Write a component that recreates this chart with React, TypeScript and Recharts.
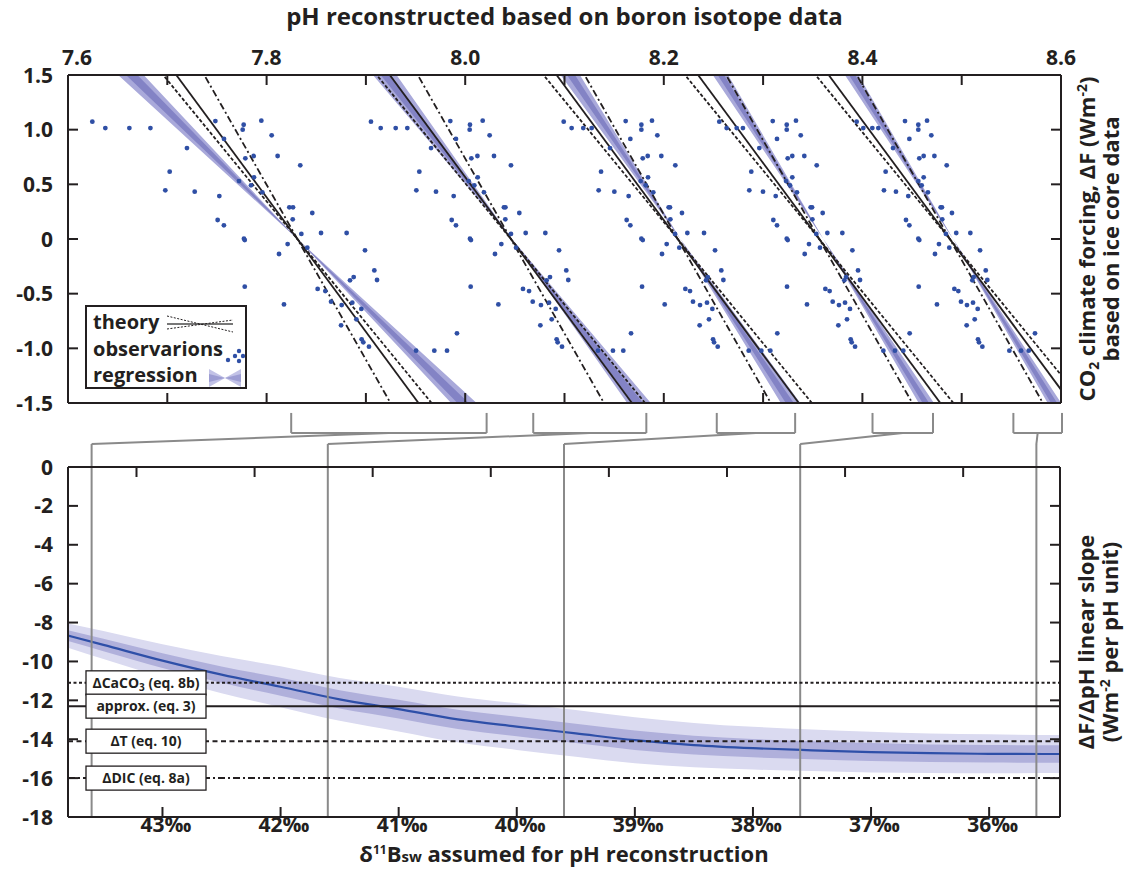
import React from 'react';
import { ComposedChart, XAxis, YAxis, Scatter, Area, Line, ReferenceLine, Legend } from 'recharts';

// ---------- top panel: observations (ΔF shared, pH per assumed δ11Bsw) ----------
const FORCING = [
  1.073, 1.015, 1.015, 1.015, 0.616, 0.445, 0.433, 0.832, 1.079, 1.045, 1.0, 1.082, 0.948, 0.915, 0.393,
  0.174, 0.125, 0.738, 0.759, 0.759, 0.674, 0.564, 0.53, 0.491, 0.427, 0.003, -0.01, -0.436, -0.137, -0.598,
  -0.046, 0.29, 0.29, 0.18, 0.046, 0.238, 0.055, -0.079, -0.457, -0.476, -0.573, -0.604, -0.79, 0.055, -0.378,
  -0.348, -0.582, -0.64, -0.735, -0.918, -0.945, -0.985, -0.104, -0.287, -0.375, -1.021, -1.021, -1.021, -0.863,
];
const PH_436 = [
  7.6245, 7.6376, 7.6618, 7.683, 7.7024, 7.698, 7.7276, 7.7198, 7.7484, 7.7769, 7.7759, 7.7947, 7.8051, 7.7571, 7.7524,
  7.7507, 7.757, 7.7786, 7.787, 7.8111, 7.8339, 7.7873, 7.7722, 7.7843, 7.7957, 7.7772, 7.778, 7.778, 7.8125, 7.8175,
  7.8212, 7.8229, 7.8266, 7.8263, 7.835, 7.846, 7.8548, 7.841, 7.8514, 7.8591, 7.8649, 7.8756, 7.875, 7.8806, 7.884,
  7.8877, 7.8863, 7.8954, 7.8904, 7.8957, 7.8974, 7.9031, 7.8991, 7.9085, 7.9112, 7.9505, 7.9689, 7.9817, 7.9917,
];
const PH_416 = [
  7.9051, 7.9149, 7.93, 7.9417, 7.9538, 7.9508, 7.9706, 7.9656, 7.985, 8.0048, 8.0045, 8.0176, 8.0246, 7.9907, 7.9884,
  7.9864, 7.9907, 8.0062, 8.0123, 8.029, 8.0461, 8.0126, 8.0035, 8.0092, 8.0189, 8.0048, 8.0058, 8.0055, 8.03, 8.0334,
  8.0364, 8.039, 8.0405, 8.0404, 8.0461, 8.0545, 8.0609, 8.0512, 8.0582, 8.0643, 8.068, 8.0763, 8.0757, 8.0807, 8.082,
  8.0854, 8.0844, 8.0911, 8.0871, 8.0921, 8.0931, 8.0975, 8.0945, 8.1018, 8.1038, 8.1337, 8.1488, 8.1592, 8.167,
];
const PH_396 = [
  8.0992, 8.1072, 8.1189, 8.1274, 8.1368, 8.1344, 8.1502, 8.1458, 8.1616, 8.1774, 8.1774, 8.1881, 8.1935, 8.1663, 8.1646,
  8.1626, 8.1663, 8.1788, 8.1838, 8.1975, 8.2116, 8.1841, 8.1767, 8.1818, 8.1894, 8.1774, 8.1788, 8.1781, 8.1982, 8.2009,
  8.2029, 8.2049, 8.2062, 8.2066, 8.2113, 8.2183, 8.2237, 8.2156, 8.2217, 8.2264, 8.2294, 8.2365, 8.2361, 8.2405, 8.2425,
  8.2442, 8.2435, 8.2489, 8.2455, 8.2496, 8.2506, 8.2543, 8.2516, 8.2579, 8.26, 8.2855, 8.2982, 8.3073, 8.3143,
];
const PH_376 = [
  8.2559, 8.2633, 8.2734, 8.2797, 8.2881, 8.2861, 8.2999, 8.2962, 8.3097, 8.3238, 8.3238, 8.3331, 8.3379, 8.314, 8.3127,
  8.3103, 8.314, 8.3248, 8.3294, 8.3415, 8.354, 8.3294, 8.3231, 8.3271, 8.3341, 8.3238, 8.3248, 8.3241, 8.3419, 8.3442,
  8.3462, 8.3479, 8.3493, 8.3496, 8.3536, 8.36, 8.3647, 8.3573, 8.3627, 8.367, 8.3701, 8.3764, 8.3758, 8.3798, 8.3818,
  8.3835, 8.3825, 8.3875, 8.3845, 8.3882, 8.3892, 8.3926, 8.3899, 8.3956, 8.3976, 8.4211, 8.4328, 8.4412, 8.4476,
];
const PH_356 = [
  8.3942, 8.4009, 8.41, 8.416, 8.4234, 8.4217, 8.4338, 8.4308, 8.4429, 8.4563, 8.4563, 8.4651, 8.4694, 8.4473, 8.4462,
  8.4439, 8.4473, 8.4573, 8.4617, 8.4725, 8.4849, 8.4617, 8.4563, 8.4597, 8.466, 8.4563, 8.4573, 8.4567, 8.4731, 8.4751,
  8.4771, 8.4788, 8.4801, 8.4804, 8.4841, 8.4902, 8.4945, 8.4875, 8.4926, 8.4966, 8.4993, 8.5053, 8.505, 8.5087, 8.5107,
  8.5121, 8.5114, 8.5161, 8.5131, 8.5164, 8.5174, 8.5208, 8.5185, 8.5242, 8.5258, 8.548, 8.5597, 8.5675, 8.5738,
];

// assumed δ11Bsw of each reconstruction and its fit
const RECON_DELTA = [43.6, 41.6, 39.6, 37.6, 35.6];
const THEORY_PIVOT = [7.831, 8.046, 8.214, 8.3565, 8.488];
const REG_PIVOT = [7.831, 8.047, 8.2167, 8.3607, 8.4913];
const REG_SLOPE = [-9.0, -11.82, -13.63, -14.55, -14.76];
const REG_OUTER = [0.69, 1.1, 1.2, 1.08, 0.99];
const REG_INNER = [0.31, 0.47, 0.5, 0.46, 0.45];

// pH range brackets under the top panel
const BRACKET_LO = [7.825, 8.069, 8.254, 8.411, 8.553];
const BRACKET_HI = [8.022, 8.183, 8.333, 8.472, 8.602];

// theory slopes (Wm-2 per pH unit)
const THEORY_NAME = ['caco3', 'approx', 'dT', 'dic'];
const THEORY_SLOPE = [-11.1, -12.3, -14.1, -16.0];
const THEORY_IN_TOP = [true, true, false, true];

// ---------- bottom panel: regression slope vs δ11Bsw ----------
const DELTA_GRID = [43.8, 43.5, 43.0, 42.5, 42.0, 41.5, 41.0, 40.5, 40.0, 39.5, 39.0, 38.5, 38.0, 37.5, 37.0, 36.5, 36.0, 35.4];
const SLOPE_MID = [-8.67, -9.15, -9.96, -10.68, -11.3, -11.95, -12.45, -12.98, -13.35, -13.7, -14.05, -14.3, -14.46, -14.57, -14.66, -14.72, -14.75, -14.76];
const SLOPE_OUTER = [0.62, 0.72, 0.85, 0.96, 1.05, 1.1, 1.15, 1.18, 1.2, 1.2, 1.18, 1.14, 1.1, 1.07, 1.05, 1.02, 1.0, 0.98];
const SLOPE_INNER = [0.28, 0.32, 0.38, 0.42, 0.46, 0.47, 0.48, 0.49, 0.5, 0.5, 0.5, 0.48, 0.47, 0.46, 0.46, 0.45, 0.45, 0.45];

// ticks
const PH_TICKS = [7.6, 7.7, 7.8, 7.9, 8.0, 8.1, 8.2, 8.3, 8.4, 8.5, 8.6];
const F_TICKS = [-1.5, -1.0, -0.5, 0, 0.5, 1.0, 1.5];
const D_TICKS = [43, 42, 41, 40, 39, 38, 37, 36];
const D_TOP_TICKS = [43.22, 42.22, 41.22, 40.22, 39.22, 38.22, 37.22, 36.22];
const S_TICKS = [0, -2, -4, -6, -8, -10, -12, -14, -16, -18];

const PH_DOMAIN: [number, number] = [7.6, 8.6];
const D_DOMAIN: [number, number] = [35.4, 43.8];

const INK = '#231f20';
const GREY = '#8a8a8a';
const DOT = '#2f4fa5';
const FONT = "'Open Sans', 'Noto Sans', 'DejaVu Sans', sans-serif";
const TL = 10;
const TICK_FS = 21;
const txt = { fill: INK, fontFamily: FONT, fontWeight: 700 } as const;

// bracket geometry in slope-axis units (above the 0 line)
const BR_TOP = 2.78;
const BR_BASE = 1.75;
const BR_KNEE = 1.18;

const lineStyle: Record<string, { dash?: string; w: number }> = {
  caco3: { dash: '3 2.5', w: 2 },
  approx: { w: 2 },
  dT: { dash: '5 3.5', w: 2 },
  dic: { dash: '7 3 2 3', w: 2 },
};

const obsRows = [PH_436, PH_416, PH_396, PH_376, PH_356].flatMap((arr) =>
  arr.map((ph, i) => ({ ph, f: FORCING[i] }))
);

const SPAN = 0.3;
const bowtie = (pc: number, s: number, w: number) => {
  const a = Math.abs(s);
  return [
    { ph: pc - SPAN, band: [(a - w) * SPAN, (a + w) * SPAN] },
    { ph: pc, band: [0, 0] },
    { ph: pc + SPAN, band: [-(a + w) * SPAN, -(a - w) * SPAN] },
  ];
};

const slopeRows = DELTA_GRID.map((d, i) => ({
  d,
  v: SLOPE_MID[i],
  outer: [SLOPE_MID[i] - SLOPE_OUTER[i], SLOPE_MID[i] + SLOPE_OUTER[i]],
  inner: [SLOPE_MID[i] - SLOPE_INNER[i], SLOPE_MID[i] + SLOPE_INNER[i]],
}));

// both panels share the same plot width, so a pH on the top axis maps onto the δ axis below
const deltaOfPh = (ph: number) =>
  D_DOMAIN[1] - ((ph - PH_DOMAIN[0]) / (PH_DOMAIN[1] - PH_DOMAIN[0])) * (D_DOMAIN[1] - D_DOMAIN[0]);

// inward ticks; p.x/p.y sit tickMargin away from the axis line
const tick = (
  side: 'left' | 'right' | 'top' | 'bottom', m: number,
  fmt?: (v: number) => string | null, dx: (v: number) => number = () => 0
) =>
  (p: any) => {
    const v = p.payload.value;
    const t = fmt ? fmt(v) : null;
    let ln: React.ReactNode = null;
    let tx: React.ReactNode = null;
    if (side === 'left') {
      const ax = p.x + m;
      ln = <line x1={ax} x2={ax + TL} y1={p.y} y2={p.y} stroke={INK} strokeWidth={2} />;
      if (t != null) tx = <text x={p.x} y={p.y} dy="0.36em" textAnchor="end" fontSize={TICK_FS} {...txt}>{t}</text>;
    } else if (side === 'right') {
      const ax = p.x - m;
      ln = <line x1={ax} x2={ax - TL} y1={p.y} y2={p.y} stroke={INK} strokeWidth={2} />;
    } else if (side === 'top') {
      const ay = p.y + m;
      ln = <line x1={p.x} x2={p.x} y1={ay} y2={ay + TL} stroke={INK} strokeWidth={2} />;
      if (t != null) tx = <text x={p.x + dx(v)} y={p.y} textAnchor="middle" fontSize={TICK_FS} {...txt}>{t}</text>;
    } else {
      const ay = p.y - m;
      ln = <line x1={p.x} x2={p.x} y1={ay} y2={ay - TL} stroke={INK} strokeWidth={2} />;
      if (t != null) tx = <text x={p.x + dx(v)} y={p.y} textAnchor="start" fontSize={TICK_FS} {...txt}>{t}</text>;
    }
    return <g>{ln}{tx}</g>;
  };

const fmtF = (v: number) => (v === 0 ? '0' : v.toFixed(1));
const fmtPh = (v: number) => (Math.round(v * 10) % 2 === 0 ? v.toFixed(1) : null);
const axisLine = { stroke: INK, strokeWidth: 2 };

const sideTitle = (l1: React.ReactNode, l2: React.ReactNode) => (props: any) => {
  const vb = props.viewBox || {};
  const cy = vb.y + vb.height / 2;
  return (
    <g>
      <text transform={`translate(${vb.x + 34},${cy}) rotate(-90)`} textAnchor="middle" fontSize={22} {...txt}>{l1}</text>
      <text transform={`translate(${vb.x + 58},${cy}) rotate(-90)`} textAnchor="middle" fontSize={22} {...txt}>{l2}</text>
    </g>
  );
};

const topTitle = (props: any) => {
  const vb = props.viewBox || {};
  return (
    <text x={vb.x + vb.width / 2} y={vb.y + 25} textAnchor="middle" fontSize={24} {...txt}>
      pH reconstructed based on boron isotope data
    </text>
  );
};

const bottomTitle = (props: any) => {
  const vb = props.viewBox || {};
  return (
    <text x={vb.x + vb.width / 2} y={vb.y + 45} textAnchor="middle" fontSize={22} {...txt}>
      δ<tspan dy={-8} fontSize={12}>11</tspan>
      <tspan dy={8}>B</tspan>
      <tspan fontSize={15}>sw</tspan>
      <tspan> assumed for pH reconstruction</tspan>
    </text>
  );
};

const boxLabel = (content: React.ReactNode) => (props: any) => {
  const vb = props.viewBox || {};
  const x = vb.x + 18;
  const y = vb.y;
  return (
    <g>
      <rect x={x} y={y - 12} width={120} height={24} fill="#fff" stroke={INK} strokeWidth={1.3} />
      <text x={x + 60} y={y} dy="0.36em" textAnchor="middle" fontSize={14} {...txt}>{content}</text>
    </g>
  );
};

const boxText: Record<string, React.ReactNode> = {
  caco3: (<>ΔCaCO<tspan dy={3} fontSize={10}>3</tspan><tspan dy={-3}> (eq. 8b)</tspan></>),
  approx: 'approx. (eq. 3)',
  dT: 'ΔT (eq. 10)',
  dic: 'ΔDIC (eq. 8a)',
};

const LegendBox = () => (
  <svg width={162} height={84} style={{ display: 'block' }}>
    <rect x={1} y={1} width={160} height={82} fill="#fff" stroke={INK} strokeWidth={2} />
    <text x={8} y={24} fontSize={20} {...txt}>theory</text>
    <text x={8} y={51} fontSize={20} {...txt}>observarions</text>
    <text x={8} y={77} fontSize={20} {...txt}>regression</text>
    <line x1={82} x2={148} y1={19} y2={19} stroke="#777" strokeWidth={2} />
    <line x1={82} x2={148} y1={11} y2={27} stroke={INK} strokeWidth={1} strokeDasharray="2 1.5" />
    <line x1={82} x2={148} y1={24} y2={15} stroke={INK} strokeWidth={1} strokeDasharray="2 1.5" />
    {[[143, 55], [150, 51], [154, 46], [158, 51], [154, 56]].map(([cx, cy], i) => (
      <circle key={i} cx={cx} cy={cy} r={2.2} fill={DOT} />
    ))}
    <polygon points="124,64 140,73 124,82" fill="#c2c2e6" />
    <polygon points="156,64 140,73 156,82" fill="#c2c2e6" />
    <polygon points="124,69 140,73 124,77" fill="#9d9dd3" />
    <polygon points="156,69 140,73 156,77" fill="#9d9dd3" />
  </svg>
);

function TopPanel() {
  return (
    <ComposedChart width={1136} height={425} margin={{ top: 0, right: 0, bottom: 0, left: 0 }}>
      <XAxis xAxisId="t" orientation="top" type="number" dataKey="ph" domain={PH_DOMAIN} ticks={PH_TICKS}
        allowDataOverflow height={75} tickSize={0} tickMargin={10} interval={0} tickLine={false}
        axisLine={axisLine} tick={tick('top', 10, fmtPh, (v) => (v === 7.6 ? 9 : 0))} label={topTitle} />
      <XAxis xAxisId="b" orientation="bottom" type="number" dataKey="ph" domain={PH_DOMAIN} ticks={PH_TICKS}
        allowDataOverflow height={22} tickSize={0} tickMargin={0} interval={0} tickLine={false}
        axisLine={axisLine} tick={tick('bottom', 0)} />
      <YAxis yAxisId="l" type="number" dataKey="f" domain={[-1.5, 1.5]} ticks={F_TICKS} allowDataOverflow
        width={68} tickSize={0} tickMargin={15} interval={0} tickLine={false} axisLine={axisLine}
        tick={tick('left', 15, fmtF)} />
      <YAxis yAxisId="r" orientation="right" type="number" domain={[-1.5, 1.5]} ticks={F_TICKS} allowDataOverflow
        width={75} tickSize={0} tickMargin={0} interval={0} tickLine={false} axisLine={axisLine}
        tick={tick('right', 0)}
        label={sideTitle(
          <>CO<tspan dy={4} fontSize={14}>2</tspan><tspan dy={-4}> climate forcing, ΔF (Wm</tspan><tspan dy={-8} fontSize={14}>-2</tspan><tspan dy={8}>)</tspan></>,
          'based on ice core data'
        )} />

      {REG_PIVOT.map((pc, i) => (
        <Area key={`ro${i}`} xAxisId="t" yAxisId="l" data={bowtie(pc, REG_SLOPE[i], REG_OUTER[i])} dataKey="band"
          type="linear" stroke="none" fill="#a9a9da" fillOpacity={1} isAnimationActive={false} legendType="none" />
      ))}
      {REG_PIVOT.map((pc, i) => (
        <Area key={`ri${i}`} xAxisId="t" yAxisId="l" data={bowtie(pc, REG_SLOPE[i], REG_INNER[i])} dataKey="band"
          type="linear" stroke="none" fill="#8383c5" fillOpacity={1} isAnimationActive={false} legendType="none" />
      ))}

      {THEORY_PIVOT.flatMap((pc, i) =>
        THEORY_SLOPE.map((s, k) =>
          THEORY_IN_TOP[k] ? (
            <ReferenceLine key={`th${i}-${k}`} xAxisId="t" yAxisId="l" ifOverflow="hidden"
              segment={[{ x: pc + 1.6 / s, y: 1.6 }, { x: pc - 1.6 / s, y: -1.6 }]}
              stroke={INK} strokeWidth={1.8}
              strokeDasharray={THEORY_NAME[k] === 'caco3' ? '3.5 2' : lineStyle[THEORY_NAME[k]].dash} />
          ) : null
        )
      )}

      <Scatter xAxisId="t" yAxisId="l" data={obsRows} isAnimationActive={false} legendType="none"
        shape={(p: any) => <circle cx={p.cx} cy={p.cy} r={2.4} fill={DOT} />} />

      <Legend layout="horizontal" verticalAlign="middle" align="center" content={LegendBox}
        wrapperStyle={{ left: 85, top: 305, width: 162, height: 84 }} />
    </ComposedChart>
  );
}

function BottomPanel() {
  return (
    <ComposedChart width={1136} height={464} data={slopeRows} margin={{ top: 0, right: 0, bottom: 0, left: 0 }}>
      <XAxis xAxisId="d" orientation="bottom" type="number" dataKey="d" domain={D_DOMAIN} reversed ticks={D_TICKS}
        allowDataOverflow height={52} tickSize={0} tickMargin={15} interval={0} tickLine={false}
        axisLine={axisLine} tick={tick('bottom', 15, (v) => `${v}‰`, () => -22)} label={bottomTitle} />
      <XAxis xAxisId="dt" orientation="top" type="number" dataKey="d" domain={D_DOMAIN} reversed ticks={D_TOP_TICKS}
        allowDataOverflow height={62} tickSize={0} tickMargin={0} interval={0} tickLine={false}
        axisLine={axisLine} tick={tick('top', 0)} />
      <YAxis yAxisId="l" type="number" domain={[-18, 0]} ticks={S_TICKS} allowDataOverflow width={68}
        tickSize={0} tickMargin={15} interval={0} tickLine={false} axisLine={axisLine}
        tick={tick('left', 15, (v) => String(v))} />
      <YAxis yAxisId="r" orientation="right" type="number" domain={[-18, 0]} ticks={S_TICKS} allowDataOverflow
        width={76} tickSize={0} tickMargin={0} interval={0} tickLine={false} axisLine={axisLine}
        tick={tick('right', 0)}
        label={sideTitle(
          'ΔF/ΔpH linear slope',
          <>(Wm<tspan dy={-8} fontSize={14}>-2</tspan><tspan dy={8}> per pH unit)</tspan></>
        )} />

      <Area xAxisId="d" yAxisId="l" dataKey="outer" type="monotone" stroke="none" fill="#dadaf0" fillOpacity={1}
        isAnimationActive={false} legendType="none" />
      <Area xAxisId="d" yAxisId="l" dataKey="inner" type="monotone" stroke="none" fill="#b0b0db" fillOpacity={1}
        isAnimationActive={false} legendType="none" />
      <Line xAxisId="d" yAxisId="l" dataKey="v" type="monotone" stroke="#2e4fa8" strokeWidth={2.2} dot={false}
        isAnimationActive={false} legendType="none" />

      {RECON_DELTA.map((d, i) => {
        const lo = deltaOfPh(BRACKET_LO[i]);
        const hi = deltaOfPh(BRACKET_HI[i]);
        const mid = (lo + hi) / 2;
        const g = { stroke: GREY, strokeWidth: 2, ifOverflow: 'visible' as const, xAxisId: 'd', yAxisId: 'l' };
        return [
          <ReferenceLine key={`bl${i}`} {...g} segment={[{ x: lo, y: BR_TOP }, { x: lo, y: BR_BASE }]} />,
          <ReferenceLine key={`bh${i}`} {...g} segment={[{ x: hi, y: BR_TOP }, { x: hi, y: BR_BASE }]} />,
          <ReferenceLine key={`bb${i}`} {...g} segment={[{ x: lo, y: BR_BASE }, { x: hi, y: BR_BASE }]} />,
          <ReferenceLine key={`bs${i}`} {...g} segment={[{ x: mid, y: BR_BASE }, { x: d, y: BR_KNEE }]} />,
          <ReferenceLine key={`bv${i}`} {...g} segment={[{ x: d, y: BR_KNEE }, { x: d, y: -18 }]} />,
        ];
      })}

      {THEORY_SLOPE.map((s, k) => (
        <ReferenceLine key={`h${k}`} xAxisId="d" yAxisId="l" y={s} ifOverflow="visible" stroke={INK}
          strokeWidth={lineStyle[THEORY_NAME[k]].w} strokeDasharray={lineStyle[THEORY_NAME[k]].dash}
          label={boxLabel(boxText[THEORY_NAME[k]])} />
      ))}
    </ComposedChart>
  );
}

export default function App() {
  return (
    <div style={{ position: 'absolute', left: 0, top: 0, width: 1136, height: 869, background: '#fff' }}>
      <div style={{ position: 'absolute', left: 0, top: 0 }}>
        <TopPanel />
      </div>
      <div style={{ position: 'absolute', left: 0, top: 405 }}>
        <BottomPanel />
      </div>
    </div>
  );
}
